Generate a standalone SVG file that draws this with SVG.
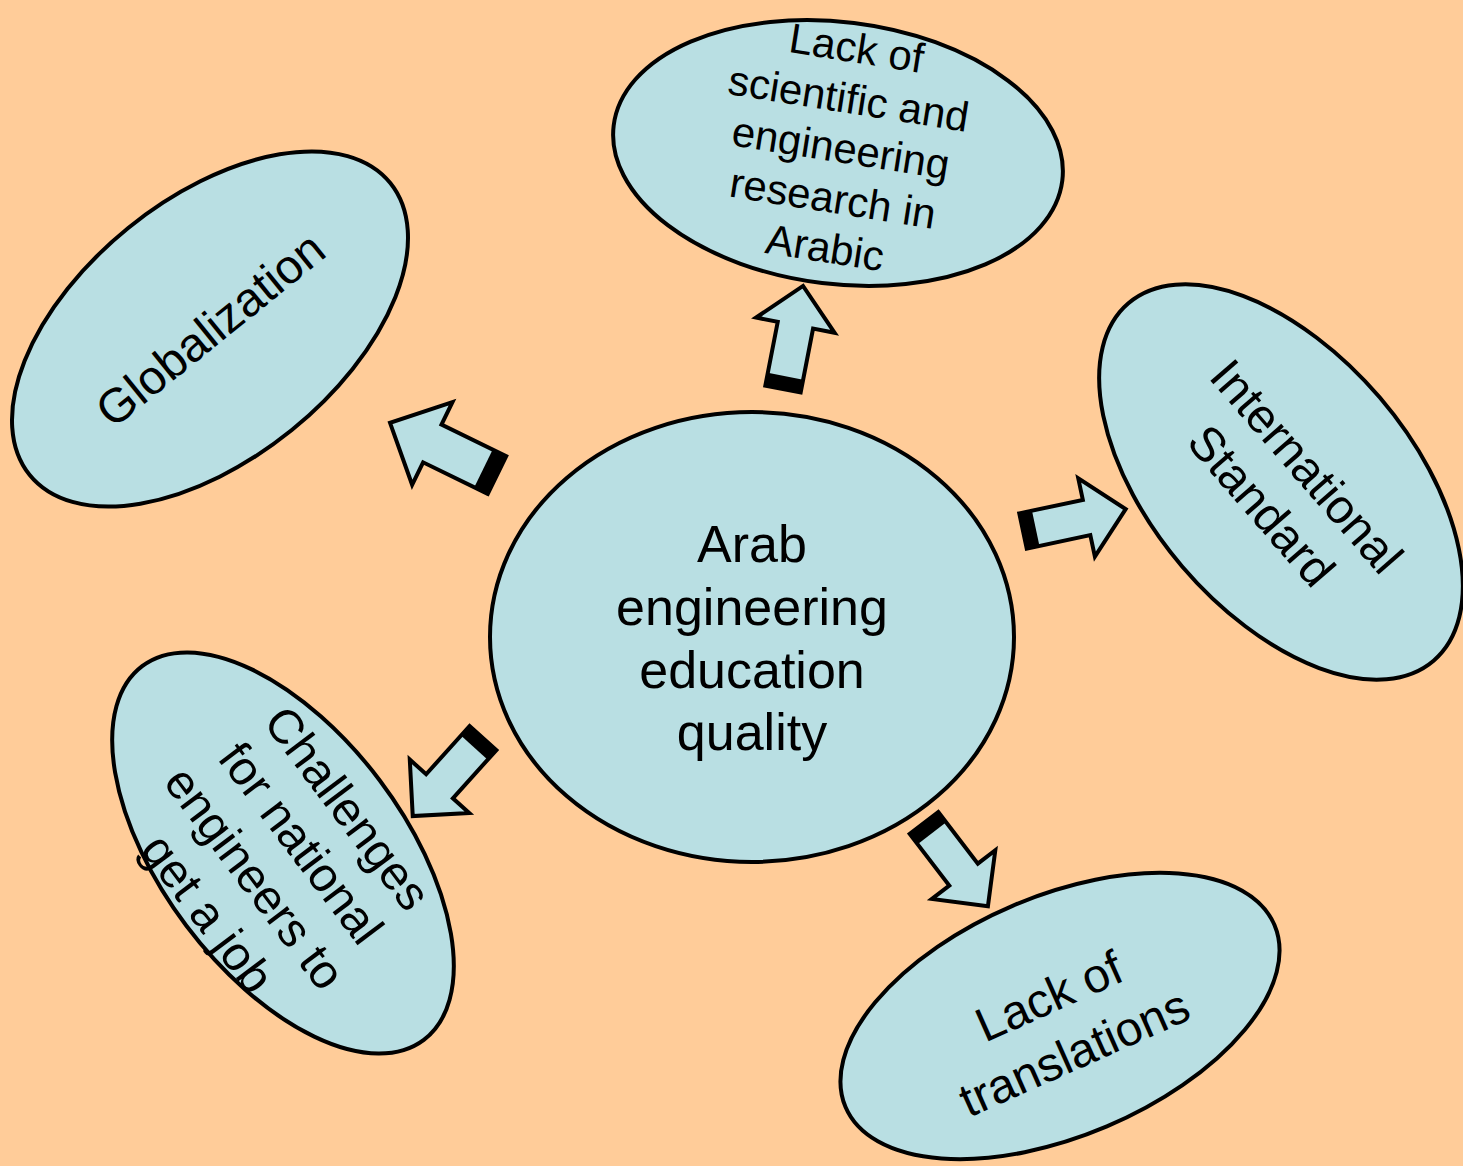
<svg xmlns="http://www.w3.org/2000/svg" width="1463" height="1166" viewBox="0 0 1463 1166">
<style>
.node{fill:#B9DFE3;stroke:#000;stroke-width:4}
.t{font-family:"Liberation Sans",Arial,sans-serif;fill:#000;text-anchor:middle}
.arrow{fill:#B9DFE3;stroke:#000;stroke-width:4;stroke-linejoin:miter;stroke-miterlimit:10}
.band{fill:#000}
</style>
<defs>
<path id="arr" d="M0,-18 H65 V-40 L105,0 L65,40 V18 H0 Z"/>
<path id="arrL" d="M0,-21 H72 V-46 L119,0 L72,46 V21 H0 Z"/>
</defs>
<rect x="0" y="0" width="1463" height="1166" fill="#FFCC99"/>

<g id="node-center">
<ellipse class="node" cx="752" cy="637" rx="262" ry="225"/>
<text class="t" font-size="52"><tspan x="752" y="562">Arab</tspan><tspan x="752" y="625">engineering</tspan><tspan x="752" y="688">education</tspan><tspan x="752" y="750">quality</tspan></text>
</g>

<g id="node-research" transform="translate(838,153)">
<ellipse class="node" cx="0" cy="0" rx="226" ry="131" transform="rotate(7)"/>
<text class="t" font-size="42" transform="rotate(9)"><tspan x="2" y="-92">Lack of</tspan><tspan x="2" y="-41">scientific and</tspan><tspan x="2" y="9">engineering</tspan><tspan x="2" y="60">research in</tspan><tspan x="2" y="110">Arabic</tspan></text>
</g>

<g id="node-globalization" transform="translate(210,329) rotate(-39)">
<ellipse class="node" cx="0" cy="0" rx="232" ry="130"/>
<text class="t" font-size="48" x="0" y="17">Globalization</text>
</g>

<g id="node-international" transform="translate(1281,482)">
<ellipse class="node" cx="0" cy="0" rx="235" ry="130" transform="rotate(49.5)"/>
<text class="t" font-size="48" transform="rotate(49)"><tspan x="5" y="-13">International</tspan><tspan x="5" y="47">Standard</tspan></text>
</g>

<g id="node-challenges" transform="translate(283,853) rotate(53)">
<ellipse class="node" cx="0" cy="0" rx="234" ry="121"/>
<text class="t" font-size="48"><tspan x="3" y="-62">Challenges</tspan><tspan x="3" y="-4">for national</tspan><tspan x="3" y="54">engineers to</tspan><tspan x="3" y="113">get a job</tspan></text>
</g>

<g id="node-translations" transform="translate(1060,1016)">
<ellipse class="node" cx="0" cy="0" rx="233" ry="120" transform="rotate(-23)"/>
<text class="t" font-size="48" transform="rotate(-24)"><tspan x="-2" y="-6">Lack of</tspan><tspan x="-2" y="56">translations</tspan></text>
</g>

<g id="connectors">
<g transform="translate(783,389) rotate(-79)"><use href="#arr" class="arrow"/><rect class="band" x="0" y="-18" width="13" height="36"/></g>
<g transform="translate(497,475) rotate(-154)"><use href="#arrL" class="arrow"/><rect class="band" x="0" y="-21" width="15" height="42"/></g>
<g transform="translate(1023,531) rotate(-12)"><use href="#arr" class="arrow"/><rect class="band" x="0" y="-18" width="13" height="36"/></g>
<g transform="translate(483,738) rotate(132)"><use href="#arr" class="arrow"/><rect class="band" x="0" y="-18" width="13" height="36"/></g>
<g transform="translate(924,823) rotate(52.5)"><use href="#arr" class="arrow"/><rect class="band" x="0" y="-18" width="13" height="36"/></g>
</g>
</svg>
